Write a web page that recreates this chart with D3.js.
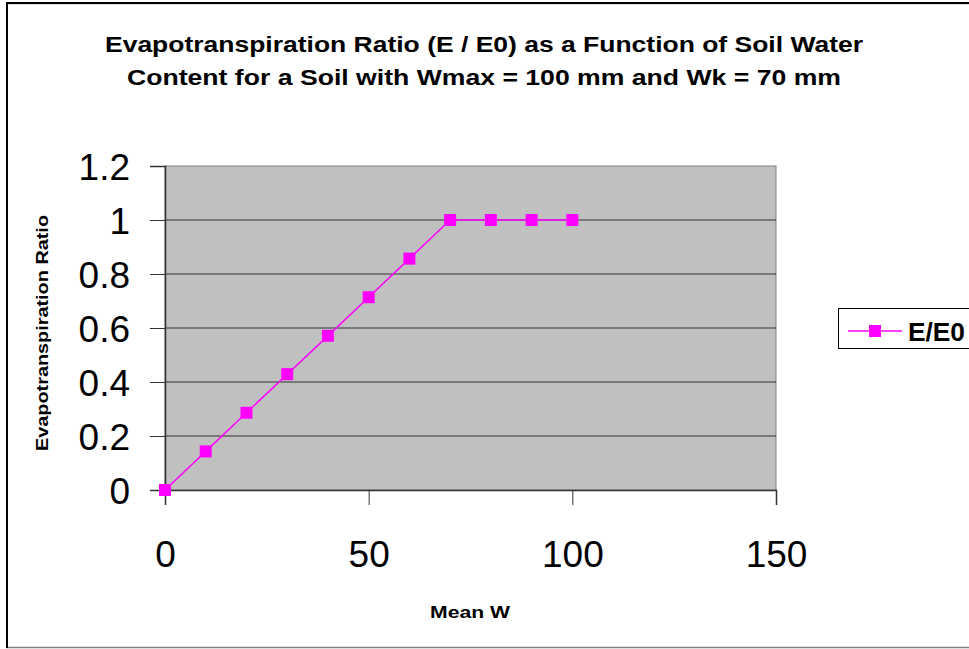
<!DOCTYPE html>
<html>
<head>
<meta charset="utf-8">
<script src="https://cdn.jsdelivr.net/npm/d3@7"></script>
<style>
  body { margin: 0; background: #fff; }
  svg { display: block; font-family: "Liberation Sans", Arial, sans-serif; }
</style>
</head>
<body>
<div id="root"></div>
<script>
// data
const meanW = [0, 10, 20, 30, 40, 50, 60, 70, 80, 90, 100];
const ratio = [0, 0.143, 0.286, 0.429, 0.571, 0.714, 0.857, 1, 1, 1, 1];
const xTicks = [0, 50, 100, 150];
const yTicks = [0, 0.2, 0.4, 0.6, 0.8, 1, 1.2];
const seriesName = "E/E0";
const titleLines = [
  "Evapotranspiration Ratio (E / E0) as a Function of Soil Water",
  "Content for a Soil with Wmax = 100 mm and Wk = 70 mm"
];
const titleWidths = [758, 714];

const W = 969, H = 649;
const plot = { left: 165, top: 166, right: 776, bottom: 490 };

const svg = d3.select("#root").append("svg")
  .attr("width", W).attr("height", H);

// chart area border (runs off the right edge like the original)
svg.append("rect")
  .attr("x", 7).attr("y", 3.5).attr("width", 980).attr("height", 644)
  .attr("fill", "#fff").attr("stroke", "#808080").attr("stroke-width", 1.5);
svg.append("line").attr("x1", 7).attr("x2", 7).attr("y1", 3).attr("y2", 648)
  .attr("stroke", "#000").attr("stroke-width", 2);
svg.append("line").attr("x1", 6).attr("x2", W).attr("y1", 3).attr("y2", 3)
  .attr("stroke", "#000").attr("stroke-width", 2);

// title (the original font is a wide, tall bold)
svg.append("g").selectAll("text").data(titleLines).enter().append("text")
  .attr("x", 484).attr("y", (d, i) => 52 + i * 33)
  .attr("text-anchor", "middle")
  .attr("textLength", (d, i) => titleWidths[i])
  .attr("lengthAdjust", "spacingAndGlyphs")
  .style("font-weight", "bold").style("font-size", "22px")
  .text(d => d);

const x = d3.scaleLinear().domain([0, 150]).range([plot.left, plot.right]);
const y = d3.scaleLinear().domain([0, 1.2]).range([plot.bottom, plot.top]);

// plot area
svg.append("rect")
  .attr("x", plot.left).attr("y", plot.top)
  .attr("width", plot.right - plot.left).attr("height", plot.bottom - plot.top)
  .attr("fill", "#c0c0c0").attr("stroke", "#808080").attr("stroke-width", 1);

// gridlines
svg.append("g").selectAll("line").data(yTicks.filter(d => d > 0 && d < 1.2)).enter().append("line")
  .attr("x1", plot.left).attr("x2", plot.right)
  .attr("y1", d => y(d)).attr("y2", d => y(d))
  .attr("stroke", "#333").attr("stroke-width", 1);

// y axis
let yAxis = svg.append("g")
  .attr("transform", `translate(${plot.left},0)`)
  .call(d3.axisLeft(y).tickValues(yTicks).tickSize(15).tickPadding(20)
    .tickFormat(d => d3.format("")(+d.toFixed(1))));
yAxis.select(".domain").attr("stroke", "#333").attr("stroke-width", 1.5);
yAxis.selectAll(".tick line").attr("stroke", "#333");
yAxis.selectAll("text").style("font-size", "37px").attr("fill", "#000").attr("dy", "0.36em");

// x axis
let xAxis = svg.append("g")
  .attr("transform", `translate(0,${plot.bottom})`)
  .call(d3.axisBottom(x).tickValues(xTicks).tickSize(15).tickPadding(43));
xAxis.select(".domain").attr("stroke", "#333").attr("stroke-width", 1.5);
xAxis.selectAll(".tick line").attr("stroke", "#333");
xAxis.selectAll("text").style("font-size", "37px").attr("fill", "#000").attr("dy", "0.5em");

// axis titles
svg.append("text")
  .attr("x", 470).attr("y", 618)
  .attr("text-anchor", "middle")
  .attr("textLength", 80).attr("lengthAdjust", "spacingAndGlyphs")
  .style("font-weight", "bold").style("font-size", "17px")
  .text("Mean W");
svg.append("text")
  .attr("transform", "translate(48,333) rotate(-90)")
  .attr("text-anchor", "middle")
  .attr("textLength", 236).attr("lengthAdjust", "spacingAndGlyphs")
  .style("font-weight", "bold").style("font-size", "17px")
  .text("Evapotranspiration Ratio");

// series
const pts = meanW.map((w, i) => ({ w: w, r: ratio[i] }));
svg.append("path").datum(pts)
  .attr("fill", "none").attr("stroke", "#ff00ff").attr("stroke-width", 1.5)
  .attr("d", d3.line().x(d => x(d.w)).y(d => y(d.r)));
svg.append("g").selectAll("rect").data(pts).enter().append("rect")
  .attr("x", d => x(d.w) - 6).attr("y", d => y(d.r) - 6)
  .attr("width", 12).attr("height", 12)
  .attr("fill", "#ff00ff");

// legend
let lg = svg.append("g").attr("transform", "translate(838,308)");
lg.append("rect").attr("x", 0.5).attr("y", 0.5).attr("width", 140).attr("height", 40)
  .attr("fill", "#fff").attr("stroke", "#000").attr("stroke-width", 1);
lg.append("line").attr("x1", 10).attr("x2", 64).attr("y1", 23).attr("y2", 23)
  .attr("stroke", "#ff00ff").attr("stroke-width", 1.5);
lg.append("rect").attr("x", 31).attr("y", 17).attr("width", 12).attr("height", 12)
  .attr("fill", "#ff00ff");
lg.append("text").attr("x", 70).attr("y", 33)
  .attr("textLength", 57).attr("lengthAdjust", "spacingAndGlyphs")
  .style("font-weight", "bold").style("font-size", "25px")
  .text(seriesName);
</script>
</body>
</html>
